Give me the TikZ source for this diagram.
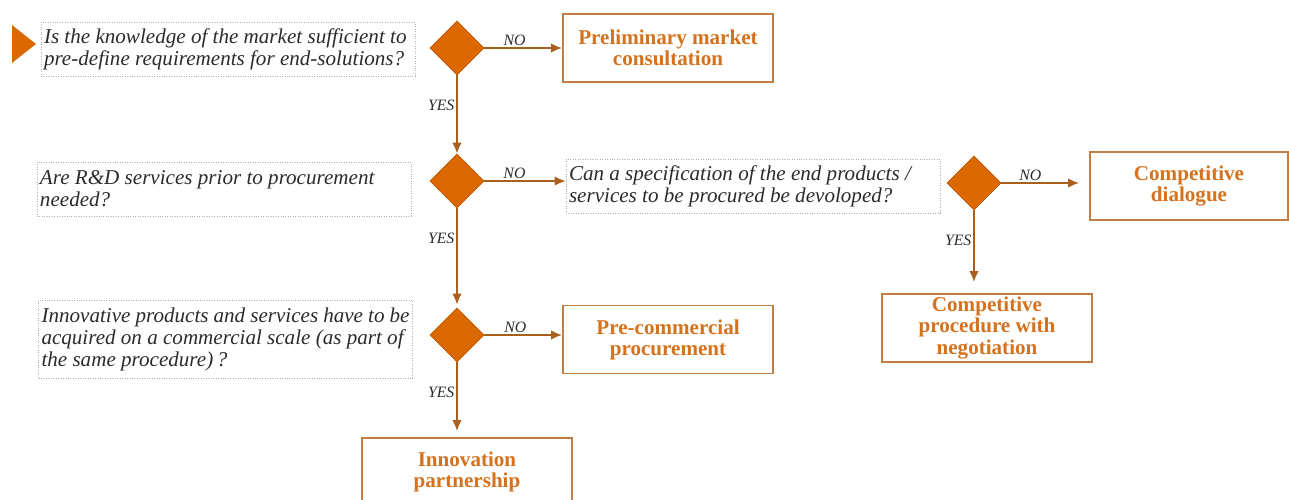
\documentclass[tikz,border=0pt]{standalone}
\usepackage{fontspec}
\setmainfont{Liberation Serif}
\usetikzlibrary{shapes.geometric}
\usetikzlibrary{arrows.meta}
\usetikzlibrary{calc}

\definecolor{pwcorange}{HTML}{DC6900}
\definecolor{outtext}{HTML}{D5721E}
\definecolor{arrowbrown}{HTML}{A85F1F}
\definecolor{boxbrown}{HTML}{C27E45}
\definecolor{dashgray}{HTML}{BBAD9F}
\definecolor{textgray}{HTML}{2B2B2B}

\begin{document}
\begin{tikzpicture}[
        >={Latex[length=0.22cm, width=0.19cm]}, thick,
        question/.style={draw=dashgray, densely dotted, thin,
                         minimum width=7.48cm, minimum height=1.08cm,
                         text width=7.36cm, inner xsep=0.06cm, inner ysep=0pt,
                         align=flush left, text=textgray,
                         font=\fontsize{12}{12.5}\selectfont\itshape},
        outcome/.style={draw=boxbrown, line width=1.1pt,
                        minimum width=4.2cm, minimum height=1.36cm,
                        align=center, text=outtext,
                        font=\fontsize{12}{12}\selectfont\bfseries},
        decision/.style={diamond, aspect=1, fill=pwcorange,
                         draw=pwcorange!85!black, thin, inner sep=0pt,
                         minimum width=1.08cm, minimum height=1.08cm},
        flow/.style={->, arrowbrown, line width=1pt},
        answer/.style={font=\fontsize{9}{9}\selectfont\itshape,
                       text=textgray, inner sep=1pt},
    ]
    \useasboundingbox (0cm, 0cm) rectangle (25.78cm, -9.98cm);

    \fill[pwcorange] (0.24cm, -0.5cm) -- (0.72cm, -0.88cm) -- (0.24cm, -1.26cm) -- cycle;

    \node[question] (q1) at (4.56cm, -0.98cm)
        {Is the knowledge of the market sufficient to\\pre-define requirements for end-solutions?};
    \node[question] (q2) at (4.48cm, -3.78cm)
        {Are R\&D services prior to procurement\\needed?};
    \node[question, minimum height=1.56cm] (q4) at (4.51cm, -6.78cm)
        {Innovative products and services have to be\\acquired on a commercial scale (as part of\\the same procedure)\,?};
    \node[question] (q3) at (15.06cm, -3.72cm)
        {Can a specification of the end products /\\services to be procured be devoloped?};

    \node[decision] (d1) at (9.14cm, -0.96cm) {};
    \node[decision] (d2) at (9.14cm, -3.62cm) {};
    \node[decision] (d4) at (9.14cm, -6.70cm) {};
    \node[decision] (d3) at (19.48cm, -3.66cm) {};

    \node[outcome] (pmc) at (13.36cm, -0.96cm) {Preliminary market\\consultation};
    \node[outcome] (pcp) at (13.36cm, -6.79cm) {Pre-commercial\\procurement};
    \node[outcome] (ip) at (9.34cm, -9.44cm) {Innovation\\partnership};
    \node[outcome, minimum width=3.96cm] (cd) at (23.78cm, -3.72cm) {Competitive\\dialogue};
    \node[outcome, inner ysep=0pt] (cpn) at (19.74cm, -6.56cm) {Competitive\\procedure with\\negotiation};

    \draw[flow] (d1.east) -- (pmc.west) node[answer, pos=0.39, above] {NO};
    \draw[flow] (d1.south) -- (d2.north) node[answer, pos=0.38, left] {YES};

    \draw[flow] (d2.east) -- (d2.east -| q3.west) node[answer, pos=0.37, above] {NO};
    \draw[flow, shorten >=0.06cm] (d2.south) -- (d4.north) node[answer, pos=0.3, left] {YES};

    \draw[flow] (d4.east) -- (d4.east -| pcp.west) node[answer, pos=0.4, above] {NO};
    \draw[flow, shorten >=0.12cm] (d4.south) -- (d4.south |- ip.north) node[answer, pos=0.4, left] {YES};

    \draw[flow, shorten >=0.2cm] (d3.east) -- (d3.east -| cd.west) node[answer, pos=0.33, above] {NO};
    \draw[flow, shorten >=0.22cm] (d3.south) -- (d3.south |- cpn.north) node[answer, pos=0.36, left] {YES};

    \end{tikzpicture}
\end{document}
